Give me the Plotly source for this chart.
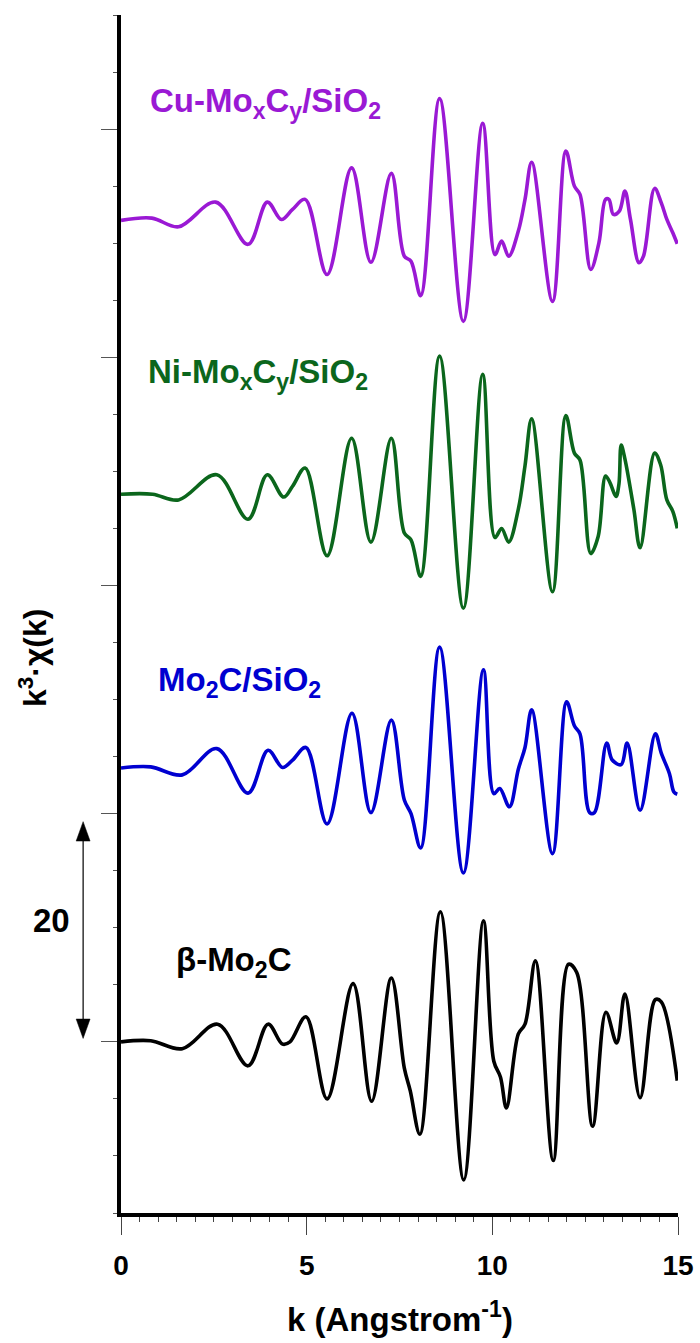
import plotly.graph_objects as go

# ---- data (k in 1/Angstrom, k^3*chi(k) values) ----
K_BETA = [0.0, 0.8, 1.65, 2.6, 3.42, 3.96, 4.35, 4.55, 4.98, 5.55,
          6.25, 6.75, 7.28, 7.63, 7.79, 8.05, 8.6, 9.23, 9.76, 10.04,
          10.22, 10.38, 10.7, 10.88, 11.16, 11.64, 12.05, 12.27, 12.7, 13.06,
          13.35, 13.57, 13.98, 14.39, 14.55, 14.98]
V_BETA = [0.0, 0.1, -0.6, 1.55, -2.1, 1.55, -0.2, 0.0, 2.2, -5.0,
          5.1, -5.2, 5.6, -2.3, -4.3, -8.1, 11.4, -12.1, 10.6, -1.7,
          -3.1, -5.8, 0.7, 1.55, 7.1, -10.4, 6.8, 6.1, -7.4, 2.6,
          -0.1, 4.2, -4.9, 3.7, 3.5, -3.4]

K_MO2C = [0.0, 0.8, 1.65, 2.58, 3.42, 3.96, 4.35, 4.62, 4.98, 5.55,
          6.22, 6.73, 7.28, 7.63, 7.81, 8.07, 8.58, 9.22, 9.76, 10.04,
          10.2, 10.46, 10.7, 10.88, 11.06, 11.62, 12.0, 12.21, 12.36, 12.62,
          12.75, 13.08, 13.23, 13.47, 13.63, 13.98, 14.39, 14.55, 14.77, 14.89,
          14.98]
V_MO2C = [0.0, 0.1, -0.6, 1.7, -2.2, 1.55, 0.05, 0.7, 1.8, -4.9,
          4.8, -3.9, 4.2, -2.8, -4.0, -7.0, 10.6, -9.2, 8.6, -2.25,
          -1.8, -3.4, -0.1, 1.8, 5.1, -7.5, 5.8, 3.7, 3.0, -3.9,
          -3.9, 2.2, 0.7, 0.3, 2.2, -3.7, 3.0, 1.3, -0.5, -2.1,
          -2.3]

K_NI = [0.0, 0.85, 1.55, 2.58, 3.42, 3.94, 4.38, 4.62, 4.96, 5.55,
        6.21, 6.73, 7.28, 7.63, 7.81, 8.07, 8.58, 9.22, 9.74, 10.07,
        10.25, 10.44, 10.7, 10.88, 11.06, 11.62, 11.98, 12.21, 12.36, 12.65,
        12.85, 13.05, 13.17, 13.33, 13.41, 13.47, 13.57, 13.81, 13.98, 14.37,
        14.53, 14.7, 14.86, 14.98]
V_NI = [0.0, 0.0, -0.5, 1.7, -2.2, 1.7, -0.25, 0.7, 2.3, -5.4,
        4.9, -4.2, 4.9, -3.4, -4.0, -7.2, 12.1, -10.0, 10.5, -3.8,
        -3.0, -4.2, -1.3, 2.5, 6.6, -8.55, 6.9, 3.6, 3.0, -5.2,
        -3.7, 1.6, 1.0, -0.2, 0.9, 4.3, 3.1, -1.3, -4.7, 3.6,
        2.6, -0.5, -1.5, -3.0]

K_CU = [0.0, 0.83, 1.55, 2.55, 3.42, 3.94, 4.32, 4.62, 4.96, 5.55,
        6.21, 6.73, 7.28, 7.63, 7.81, 8.07, 8.58, 9.22, 9.74, 10.07,
        10.25, 10.44, 10.7, 10.88, 11.06, 11.62, 11.98, 12.21, 12.36, 12.65,
        12.87, 13.05, 13.14, 13.26, 13.42, 13.57, 13.72, 13.95, 14.07, 14.37,
        14.55, 14.7, 14.86, 14.98]
V_CU = [0.0, 0.2, -0.56, 1.6, -2.1, 1.6, 0.08, 0.96, 1.84, -4.75,
        4.6, -3.67, 4.12, -3.14, -3.58, -6.6, 10.67, -8.85, 8.5, -3.0,
        -1.82, -3.14, -0.94, 1.84, 5.1, -7.1, 6.08, 3.0, 2.28, -4.3,
        -1.97, 1.84, 1.84, 0.52, 0.81, 2.57, 0.08, -3.72, -3.14, 2.8,
        1.54, 0.08, -1.09, -2.06]

SERIES_NAMES = ["β-Mo<sub>2</sub>C", "Mo<sub>2</sub>C/SiO<sub>2</sub>",
                "Ni-Mo<sub>x</sub>C<sub>y</sub>/SiO<sub>2</sub>",
                "Cu-Mo<sub>x</sub>C<sub>y</sub>/SiO<sub>2</sub>"]
OFFSETS = [0, 24, 48, 72]
COLORS = ["#000000", "#0000D0", "#0B661C", "#9A19D4"]
LABEL_POS = [(1.42, 7.0), (0.94, 31.5), (0.67, 58.5), (0.74, 82.3)]
X_TICKS = [0, 5, 10, 15]
SCALE_BAR = 20

FONT = "Liberation Sans, Arial, Helvetica, sans-serif"

fig = go.Figure()
for ks, vs, off, col in zip([K_BETA, K_MO2C, K_NI, K_CU],
                            [V_BETA, V_MO2C, V_NI, V_CU], OFFSETS, COLORS):
    fig.add_trace(go.Scatter(
        x=ks, y=[v + off for v in vs], mode="lines",
        line=dict(color=col, width=3.6, shape="spline", smoothing=1.0),
        showlegend=False, hoverinfo="skip", cliponaxis=False))

annotations = []
for name, (lx, ly), col in zip(SERIES_NAMES, LABEL_POS, COLORS):
    annotations.append(dict(
        x=lx, y=ly, xref="x", yref="y", text=name, showarrow=False,
        xanchor="left", yanchor="middle",
        font=dict(family=FONT, size=33, color=col, weight="bold")))

# y-axis title
annotations.append(dict(
    x=-0.158, y=0.4633, xref="paper", yref="paper",
    text="k<sup>3</sup>·χ(k)", textangle=-90, showarrow=False,
    xanchor="center", yanchor="middle",
    font=dict(family=FONT, size=32, color="black", weight="bold")))
# x-axis title
annotations.append(dict(
    x=0.5, y=-0.0870, xref="paper", yref="paper",
    text="k (Angstrom<sup>-1</sup>)", showarrow=False,
    xanchor="center", yanchor="middle",
    font=dict(family=FONT, size=33, color="black", weight="bold")))
# scale bar label
annotations.append(dict(
    x=-0.125, y=SCALE_BAR / 2 + 0.6, xref="paper", yref="y",
    text=str(SCALE_BAR), showarrow=False,
    xanchor="center", yanchor="middle",
    font=dict(family=FONT, size=33, color="black", weight="bold")))

# scale bar (double arrow)
bx = -0.068
tip_lo = 0.3
tip_hi = SCALE_BAR - 0.7
head_h = 1.7  # in data units
head_w = 0.0125  # in paper units
shapes = [
    dict(type="line", xref="paper", yref="y", x0=bx, x1=bx,
         y0=tip_lo + head_h, y1=tip_hi - head_h,
         line=dict(color="black", width=1.2)),
    dict(type="path", xref="paper", yref="y",
         path=f"M {bx} {tip_hi} L {bx - head_w} {tip_hi - head_h} L {bx + head_w} {tip_hi - head_h} Z",
         fillcolor="black", line=dict(color="black", width=0.5)),
    dict(type="path", xref="paper", yref="y",
         path=f"M {bx} {tip_lo} L {bx - head_w} {tip_lo + head_h} L {bx + head_w} {tip_lo + head_h} Z",
         fillcolor="black", line=dict(color="black", width=0.5)),
]

fig.update_layout(
    width=700, height=1343,
    margin=dict(l=121, r=22, t=15, b=130, autoexpand=False),
    paper_bgcolor="white", plot_bgcolor="white",
    annotations=annotations, shapes=shapes,
    xaxis=dict(
        range=[0, 15], showline=True, linecolor="black", linewidth=4,
        automargin=False,
        ticks="outside", ticklen=18, tickwidth=1, tickcolor="#444",
        tickvals=X_TICKS, ticktext=[str(t) for t in X_TICKS],
        tickfont=dict(family=FONT, size=28, color="black", weight="bold"),
        ticklabelstandoff=6,
        showgrid=False, zeroline=False,
        minor=dict(ticks="outside", dtick=0.5, tick0=0, ticklen=5,
                   tickwidth=1, tickcolor="#444", showgrid=False)),
    yaxis=dict(
        range=[-15, 90], showline=True, linecolor="black", linewidth=4,
        automargin=False,
        ticks="outside", ticklen=16, tickwidth=1, tickcolor="#555",
        tick0=0, dtick=20, showticklabels=False,
        showgrid=False, zeroline=False,
        minor=dict(ticks="outside", dtick=5, tick0=0, ticklen=4,
                   tickwidth=1, tickcolor="#555", showgrid=False)),
)

fig.write_html("out.html")
